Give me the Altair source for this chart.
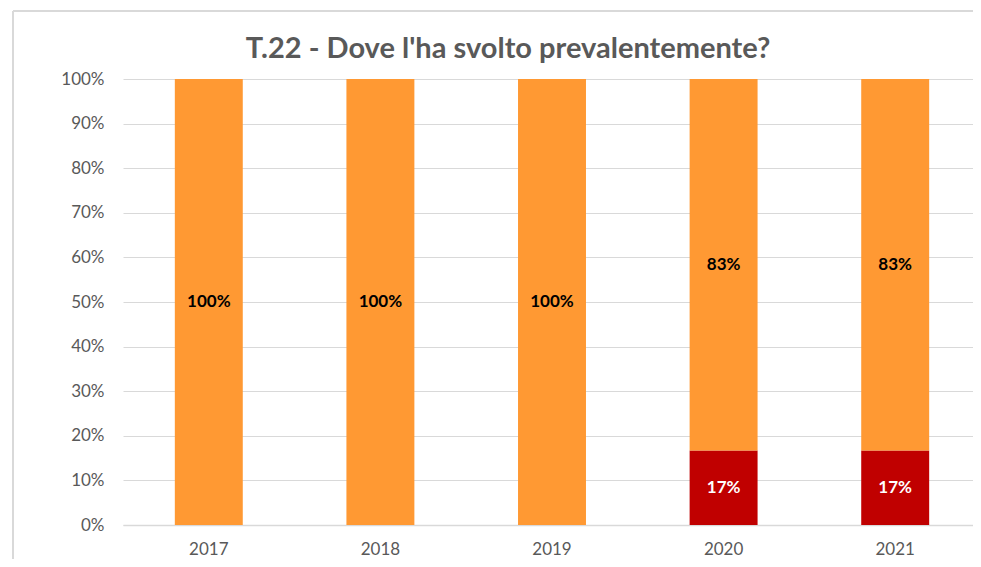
import altair as alt
import pandas as pd

years = ["2017", "2018", "2019", "2020", "2021"]
series_names = ["Prevalente", "Altro"]          # orange series, red series
share_orange = [1.0, 1.0, 1.0, 0.833, 0.833]
share_red = [0.0, 0.0, 0.0, 0.167, 0.167]
series_colors = ["#FF9933", "#C00000"]
y_ticks = [0.0, 0.1, 0.2, 0.3, 0.4, 0.5, 0.6, 0.7, 0.8, 0.9, 1.0]
title_text = "T.22 - Dove l'ha svolto prevalentemente?"

rows = []
for i, y in enumerate(years):
    rows.append({"year": y, "serie": series_names[1], "value": share_red[i], "ord": 0})
    rows.append({"year": y, "serie": series_names[0], "value": share_orange[i], "ord": 1})
df = pd.DataFrame(rows)

W, H = 850, 446
XR = 858
FONT = "Lato"
GRID = "#D9D9D9"
TXT = "#595959"

base = alt.Chart(df).transform_stack(
    stack="value", groupby=["year"], as_=["v0", "v1"],
    sort=[alt.SortField("ord", order="ascending")]
).transform_calculate(mid="(datum.v0 + datum.v1) / 2")

xscale = alt.Scale(paddingInner=0.604, paddingOuter=0.302, range=[0, XR])

xenc = alt.X("year:N", sort=years, scale=xscale,
             axis=alt.Axis(title=None, labelAngle=0, labelFont=FONT, labelFontSize=17,
                           labelColor=TXT, ticks=False, labelPadding=16,
                           domain=True, domainColor=GRID, domainWidth=1.5, grid=False))

bars = base.mark_bar().encode(
    x=xenc,
    y=alt.Y("v0:Q", scale=alt.Scale(domain=[0, 1]),
            axis=alt.Axis(title=None, values=y_ticks, format=".0%", labelFont=FONT,
                          labelFontSize=17, labelColor=TXT, ticks=False, labelPadding=19,
                          domain=False, grid=True, gridColor=GRID, gridWidth=1.2)),
    y2="v1:Q",
    color=alt.Color("serie:N", scale=alt.Scale(domain=series_names, range=series_colors),
                    legend=None),
)

labels = base.transform_filter(alt.datum.value > 0).mark_text(
    font=FONT, fontSize=17, fontWeight="bold", baseline="middle", align="center"
).encode(
    x=alt.X("year:N", sort=years, scale=xscale),
    y=alt.Y("mid:Q"),
    text=alt.Text("value:Q", format=".0%"),
    color=alt.condition(alt.datum.serie == series_names[1], alt.value("white"), alt.value("black")),
)

frame_left = alt.Chart(df).mark_rule(color=GRID, strokeWidth=1.5).encode(
    x=alt.value(-110), y=alt.value(-68), y2=alt.value(H + 60))
frame_top = alt.Chart(df).mark_rule(color=GRID, strokeWidth=1.5).encode(
    x=alt.value(-110), x2=alt.value(W + 20), y=alt.value(-68))

title = alt.Chart(pd.DataFrame({"t": [title_text]})).mark_text(
    font=FONT, fontSize=29, fontWeight="bold", color=TXT,
    align="center", baseline="alphabetic"
).encode(text="t:N", x=alt.value(385), y=alt.value(-21))

chart = alt.layer(frame_left, frame_top, bars, labels, title).properties(
    width=W, height=H,
    autosize=alt.AutoSizeParams(type="none"),
    padding={"left": 115, "top": 71, "right": 0, "bottom": 34},
).configure_view(stroke=None)

chart.save("out.html", embed_options={"renderer": "svg", "actions": False})
